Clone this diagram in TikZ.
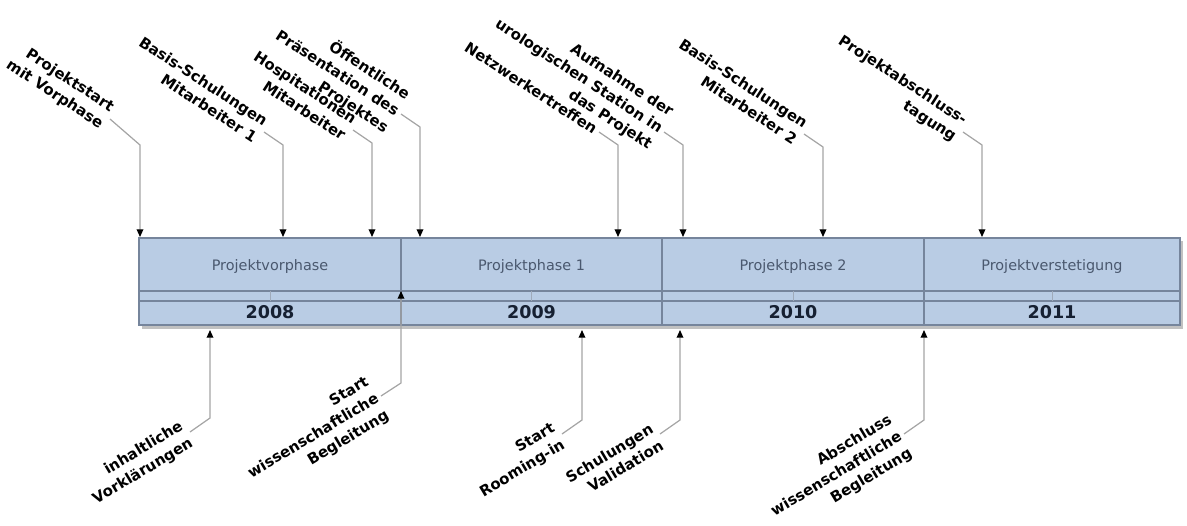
\documentclass[tikz,border=0pt]{standalone}
\usepackage{fontspec}
\setmainfont{DejaVu Sans}
\usetikzlibrary{arrows.meta,calc}
\definecolor{barblue}{RGB}{185,204,228}
\definecolor{barline}{RGB}{118,133,156}
\definecolor{phasetext}{RGB}{74,88,110}
\definecolor{yeartext}{RGB}{22,32,50}
\definecolor{eventline}{RGB}{165,165,165}
\tikzset{
	eventarrow/.style={draw=eventline, line width=0.7pt, -{Triangle[width=3.8pt,length=4.4pt,color=black]}},
	toplabel/.style={rotate=-33, anchor=east, align=right, inner sep=2pt, font=\fontsize{8.5}{11.2}\selectfont\bfseries},
	botlabel/.style={rotate=31, anchor=east, align=right, inner sep=2pt, font=\fontsize{8.5}{11.2}\selectfont\bfseries},
	phaselabel/.style={text=phasetext, font=\fontsize{8.2}{10}\selectfont},
	yearlabel/.style={text=yeartext, font=\fontsize{10}{12}\selectfont\bfseries}
}
\begin{document}
\begin{tikzpicture}[x=0.02cm, y=-0.02cm]
			\useasboundingbox (0,0) rectangle (1187,525);
			\fill[gray!70, opacity=0.7] (142,241) rectangle (1183,329);
			\filldraw[fill=barblue, draw=barline, line width=0.6pt] (139,238) rectangle (1180,325);
			\draw[barline, line width=0.6pt] (139,291) -- (1180,291);
			\draw[barline, line width=0.6pt] (139,301) -- (1180,301);
			\foreach \x in {401,662,924}{
				\draw[barline, line width=0.6pt] (\x,238) -- (\x,325);
			}
			\coordinate (bartop) at (0,237);
			\coordinate (barbot) at (0,330);
			\coordinate (barmid) at (0,291);
			\foreach \x\p\y in {270/Projektvorphase/2008,531.5/Projektphase 1/2009,793/Projektphase 2/2010,1052/Projektverstetigung/2011}{
				\draw[barline!70] (\x,291) -- (\x,301);
				\node[phaselabel] (phase\y) at (\x,267) {\p};
				\node[yearlabel] (year\y) at (\x,312) {\y};
			}
			\coordinate (t1) at (140,145);
			\coordinate (t2) at (283,145);
			\coordinate (t3) at (372,143);
			\coordinate (t4) at (420,127);
			\coordinate (t5) at (618,145);
			\coordinate (t6) at (683,145);
			\coordinate (t7) at (823,147);
			\coordinate (t8) at (982,145);
			\node[toplabel] (start) at ($(t1)+(-30,-26)$) {Projektstart\\mit Vorphase};
			\node[toplabel] (basisa) at ($(t2)+(-19,-13)$) {Basis-Schulungen\\Mitarbeiter 1};
			\node[toplabel] (hospit) at ($(t3)+(-19,-13)$) {Hospitationen\\Mitarbeiter};
			\node[toplabel] (praes) at ($(t4)+(-19,-13)$) {Öffentliche\\Präsentation des\\Projektes};
			\node[toplabel] (netz) at ($(t5)+(-19,-13)$) {Netzwerkertreffen};
			\node[toplabel] (aufn) at ($(t6)+(-19,-13)$) {Aufnahme der\\urologischen Station in\\das Projekt};
			\node[toplabel] (basisb) at ($(t7)+(-19,-13)$) {Basis-Schulungen\\Mitarbeiter 2};
			\node[toplabel] (abschl) at ($(t8)+(-19,-13)$) {Projektabschluss-\\tagung};
			\foreach \n\t in {start/t1,basisa/t2,hospit/t3,praes/t4,netz/t5,aufn/t6,basisb/t7,abschl/t8}{
				\draw[eventarrow] (\n.east) -- (\t) -- (\t |- bartop);
			}
			\coordinate (b1) at (210,418);
			\coordinate (b2) at (401,383);
			\coordinate (b3) at (582,420);
			\coordinate (b4) at (680,420);
			\coordinate (b5) at (924,420);
			\node[botlabel] (vorkl) at ($(b1)+(-20,14)$) {inhaltliche\\Vorklärungen};
			\node[botlabel] (wissa) at ($(b2)+(-20,13)$) {Start\\wissenschaftliche\\Begleitung};
			\node[botlabel] (room) at ($(b3)+(-20,14)$) {Start\\Rooming-in};
			\node[botlabel] (valid) at ($(b4)+(-20,14)$) {Schulungen\\Validation};
			\node[botlabel] (wissb) at ($(b5)+(-20,14)$) {Abschluss\\wissenschaftliche\\Begleitung};
			\foreach \n\b in {vorkl/b1,room/b3,valid/b4,wissb/b5}{
				\draw[eventarrow] (\n.east) -- (\b) -- (\b |- barbot);
			}
			\draw[eventarrow] (wissa.east) -- (b2) -- (b2 |- barmid);
		\end{tikzpicture}
\end{document}
